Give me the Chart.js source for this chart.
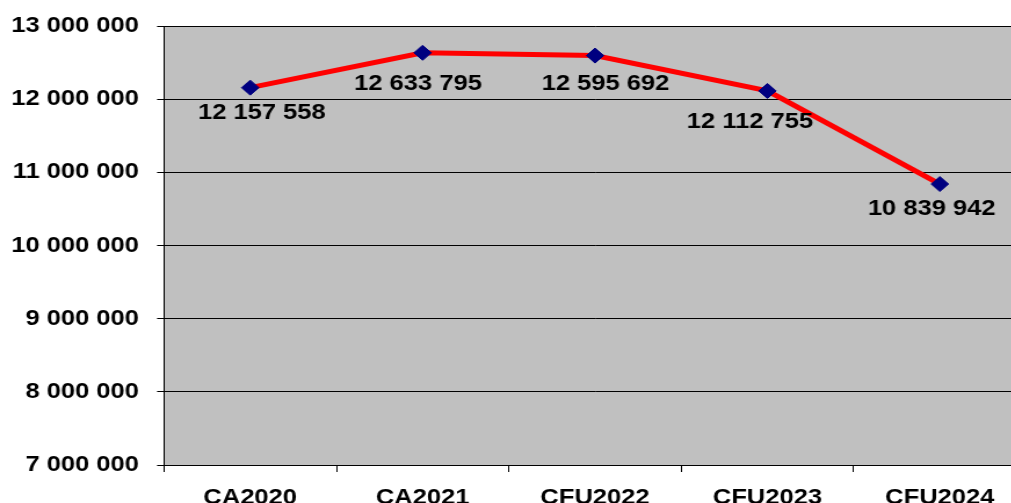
<!DOCTYPE html>
<html>
<head>
<meta charset="utf-8">
<script src="https://cdn.jsdelivr.net/npm/chart.js@4.4.1/dist/chart.umd.min.js"></script>
<style>
  html, body { margin: 0; padding: 0; background: #fff; overflow: hidden; }
  #wrap { position: relative; width: 1011px; height: 503px; overflow: hidden; }
  #c { position: absolute; left: 0; top: 0; }
</style>
</head>
<body>
<div id="wrap">
  <canvas id="c" width="900" height="530" style="width:1044px;height:530px"></canvas>
</div>
<script>
// Budget figures per year
const categories = ['CA2020', 'CA2021', 'CFU2022', 'CFU2023', 'CFU2024'];
const values = [12157558, 12633795, 12595692, 12112755, 10839942];
const yTickValues = [7000000, 8000000, 9000000, 10000000, 11000000, 12000000, 13000000];

const FONT = "'Liberation Sans', Arial, sans-serif";

// "12157558" -> "12 157 558"
function groupDigits(v) {
  return String(Math.round(v)).replace(/\B(?=(\d{3})+(?!\d))/g, ' ');
}

// grey fill behind the plot
const plotBackground = {
  id: 'plotBackground',
  beforeDraw(chart) {
    const { ctx, chartArea: a } = chart;
    ctx.save();
    ctx.fillStyle = '#C0C0C0';
    ctx.fillRect(a.left, a.top, a.right - a.left, a.bottom - a.top);
    ctx.restore();
  }
};

// value labels under each point
const valueLabels = {
  id: 'valueLabels',
  afterDatasetsDraw(chart, args, opts) {
    const { ctx } = chart;
    const meta = chart.getDatasetMeta(0);
    const data = chart.data.datasets[0].data;
    ctx.save();
    ctx.font = 'bold 22px ' + FONT;
    ctx.fillStyle = '#000';
    ctx.textAlign = 'center';
    ctx.textBaseline = 'middle';
    meta.data.forEach((pt, i) => {
      const off = opts.offsets[i] || [0, 28];
      ctx.fillText(groupDigits(data[i]), pt.x + off[0], pt.y + off[1]);
    });
    ctx.restore();
  }
};

new Chart(document.getElementById('c'), {
  type: 'line',
  data: {
    labels: categories,
    datasets: [{
      data: values,
      borderColor: '#FF0000',
      borderWidth: 5,
      tension: 0,
      fill: false,
      clip: false,
      pointStyle: 'rectRot',
      pointRadius: 7.5,
      pointHoverRadius: 7.5,
      pointBackgroundColor: '#000080',
      pointBorderColor: '#000080',
      pointBorderWidth: 1
    }]
  },
  options: {
    responsive: false,
    devicePixelRatio: 1,
    animation: false,
    events: [],
    layout: { padding: { top: 26, right: 15.5, bottom: 0, left: 0 } },
    plugins: {
      legend: { display: false },
      tooltip: { enabled: false },
      valueLabels: { offsets: [[10, 25], [-4, 31], [9, 28], [-15, 31], [-7, 25]] }
    },
    scales: {
      x: {
        type: 'category',
        offset: true,
        afterFit(scale) { scale.height = 65; },
        grid: { offset: true, drawOnChartArea: false, drawTicks: true, tickLength: 7, color: '#000', lineWidth: 1 },
        border: { display: true, color: '#000', width: 1 },
        ticks: { padding: 13, color: '#000', font: { family: FONT, size: 22, weight: 'bold' }, maxRotation: 0, autoSkip: false }
      },
      y: {
        min: 7000000,
        max: 13000000,
        afterBuildTicks(scale) { scale.ticks = yTickValues.map(v => ({ value: v })); },
        afterFit(scale) { scale.width = 141.4; scale.paddingTop = 0; scale.paddingBottom = 0; },
        grid: { color: '#000', lineWidth: 1, tickLength: 6, drawTicks: true },
        border: { display: true, color: '#000', width: 1 },
        ticks: {
          padding: 15.6,
          color: '#000',
          font: { family: FONT, size: 22, weight: 'bold' },
          callback: v => groupDigits(v)
        }
      }
    }
  },
  plugins: [plotBackground, valueLabels]
});
</script>
</body>
</html>
